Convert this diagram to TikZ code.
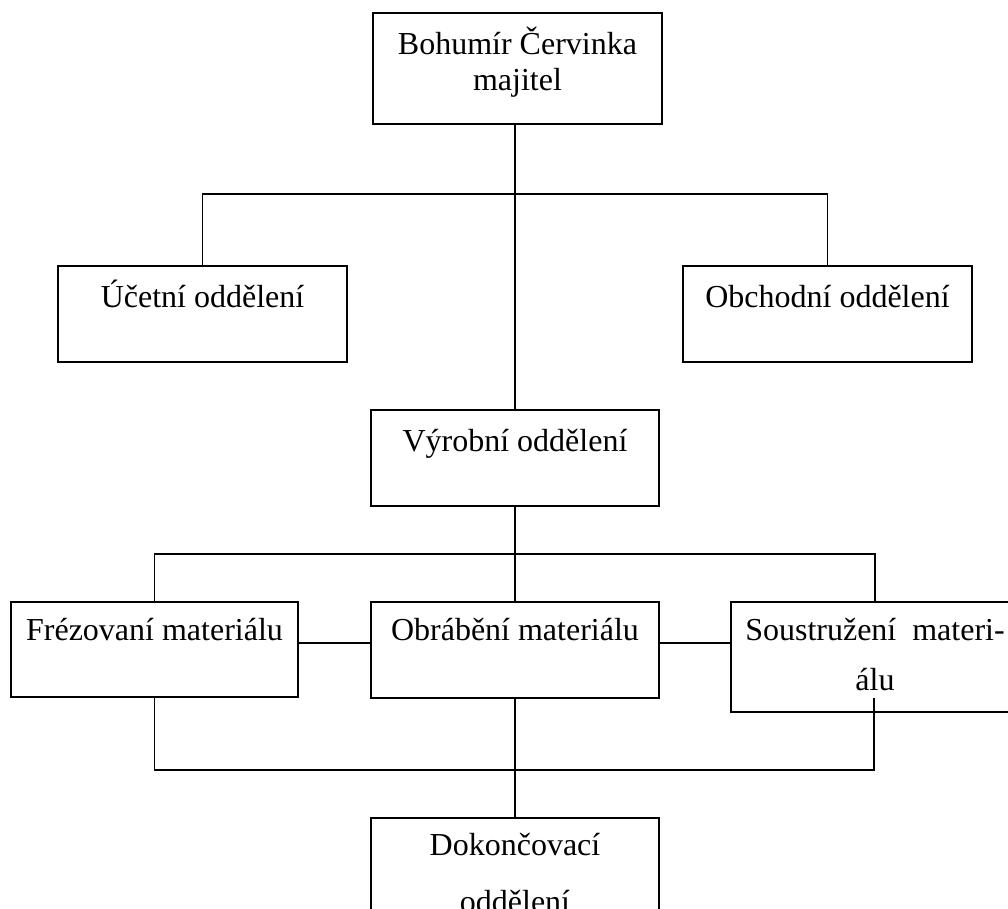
\documentclass[tikz,border=0pt]{standalone}
\usepackage{fontspec}
\setmainfont{Liberation Serif}
\tikzset{
  box/.style={draw, line width=1.8pt, inner sep=0pt, outer sep=0pt, anchor=north west},
  conn/.style={line width=1.8pt},
}
\newcommand{\boxtext}[4]{\parbox[t][#2][t]{#1}{\centering\rule{0pt}{#3}#4}}
\begin{document}
\begin{tikzpicture}[x=1pt,y=-1pt]
\useasboundingbox (0,0) rectangle (1008,909);
\clip (0,0) rectangle (1008,909);
\fill[white] (0,0) rectangle (1008,909);
\node[box, font=\fontsize{32}{36}\selectfont] (own) at (373,13)
  {\boxtext{289pt}{111pt}{42pt}{Bohumír Červinka\\majitel}};
\node[box, font=\fontsize{32}{36}\selectfont] (uct) at (58,266)
  {\boxtext{289pt}{96pt}{41pt}{Účetní oddělení}};
\node[box, font=\fontsize{32}{36}\selectfont] (obch) at (683,266)
  {\boxtext{289pt}{96pt}{41pt}{Obchodní oddělení}};
\node[box, font=\fontsize{32}{36}\selectfont] (vyr) at (371,410)
  {\boxtext{288pt}{96pt}{41pt}{Výrobní oddělení}};
\node[box, font=\fontsize{32}{36}\selectfont] (frez) at (11,602)
  {\boxtext{287pt}{95pt}{38pt}{Frézovaní materiálu}};
\node[box, font=\fontsize{32}{36}\selectfont] (obr) at (371,602)
  {\boxtext{288pt}{96pt}{38pt}{Obrábění materiálu}};
\node[box, font=\fontsize{32}{50}\selectfont] (soust) at (731,602)
  {\boxtext{288pt}{110pt}{38pt}{Soustružení\ \ materi-\\álu}};
\node[box, font=\fontsize{32}{57}\selectfont] (dok) at (371,818)
  {\boxtext{288pt}{130pt}{37pt}{Dokončovací\\oddělení}};
\coordinate (bus1) at (515,194);
\coordinate (bus2) at (515,554);
\coordinate (mid) at (515,643);
\coordinate (bus3) at (515,770);
\coordinate (sbot) at (874,698);
\draw[conn] (own.south -| vyr.north) -- (vyr.north);
\draw[conn] (uct.north) |- (bus1) -| (obch.north);
\draw[conn] (vyr.south) -- (obr.north);
\draw[conn] (frez.north) |- (bus2) -| (soust.north);
\draw[conn] (frez.east |- mid) -- (obr.west |- mid);
\draw[conn] (obr.east |- mid) -- (soust.west |- mid);
\draw[conn] (frez.south) |- (bus3) -| (sbot);
\draw[conn] (obr.south) -- (dok.north);
\end{tikzpicture}
\end{document}
